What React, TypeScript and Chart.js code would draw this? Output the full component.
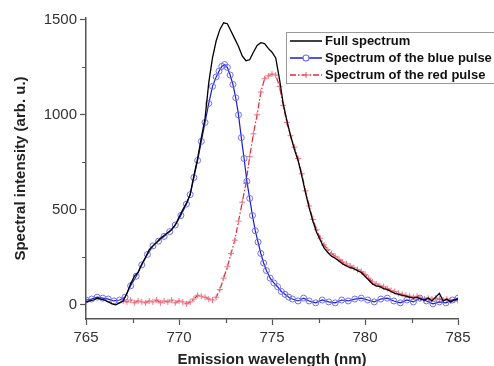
import React, { useEffect, useRef } from "react";
import { Chart, registerables } from "chart.js";

Chart.register(...registerables);

// Full spectrum: wavelengths from 765 nm in 0.2 nm steps
const FULL_START = 765;
const FULL_STEP = 0.2;
const fullValues = [
  15, 20, 25, 35, 30, 25, 15, 5, 0, 10,
  20, 60, 110, 150, 170, 215, 250, 290, 310, 330,
  350, 365, 380, 395, 420, 460, 500, 535, 580, 680,
  770, 880, 980, 1170, 1300, 1390, 1450, 1485, 1480, 1440,
  1400, 1360, 1310, 1285, 1290, 1330, 1365, 1380, 1375, 1350,
  1330, 1300, 1190, 1060, 970, 890, 820, 760, 680, 590,
  510, 440, 380, 340, 300, 275, 255, 245, 230, 215,
  205, 195, 190, 180, 170, 150, 130, 110, 100, 95,
  85, 80, 70, 60, 55, 50, 45, 40, 35, 40,
  30, 25, 35, 20, 40, 60, 20, 30, 15, 25,
  30,
];

// Blue pulse
const blueWavelengths = [
  765, 765.3, 765.6, 765.9, 766.2, 766.5, 766.8, 767.1, 767.4, 767.7,
  768.0, 768.3, 768.6, 768.9, 769.2, 769.5, 769.8, 770.1, 770.4, 770.6,
  770.8, 771.0, 771.2, 771.4, 771.6, 771.8, 772.0, 772.15, 772.3, 772.45,
  772.6, 772.75, 772.9, 773.05, 773.2, 773.35, 773.5, 773.65, 773.8, 773.95,
  774.1, 774.25, 774.4, 774.55, 774.7, 774.9, 775.1, 775.3, 775.5, 775.7,
  775.9, 776.1, 776.4, 776.7, 777.0, 777.35, 777.7, 778.05, 778.4, 778.75,
  779.1, 779.45, 779.8, 780.15, 780.5, 780.85, 781.2, 781.55, 781.9, 782.25,
  782.6, 782.95, 783.3, 783.65, 784.0, 784.35, 784.7, 785.0,
];
const blueValues = [
  25, 30, 40, 35, 30, 20, 25, 40, 100, 150,
  210, 265, 310, 335, 360, 385, 420, 470, 530, 580,
  670, 760, 860, 960, 1060, 1150, 1200, 1230, 1255, 1265,
  1250, 1210, 1160, 1090, 1000, 880, 770, 650, 560, 470,
  390, 330, 270, 220, 180, 140, 115, 95, 70, 55,
  40, 30, 20, 35, 20, 10, 25, 15, 10, 25,
  20, 30, 35, 25, 15, 30, 35, 20, 10, 25,
  15, 35, 20, 5, 15, 10, 25, 35,
];

// Red pulse: wavelengths from 767 nm in 0.2 nm steps
const RED_START = 767;
const RED_STEP = 0.2;
const redValues = [
  20, 15, 25, 10, 20, 15, 10, 20, 15, 25,
  10, 20, 15, 25, 10, 20, 15, 5, 15, 30,
  50, 45, 40, 30, 25, 40, 80, 140, 200, 270,
  340, 440, 540, 640, 780, 900, 1000, 1120, 1190, 1205,
  1215, 1210, 1150, 1050, 960, 890, 830, 770, 690, 600,
  520, 450, 395, 350, 315, 290, 270, 255, 240, 225,
  215, 205, 195, 185, 175, 160, 140, 120, 110, 100,
  95, 85, 75, 70, 60, 55, 50, 45, 40, 45,
  35, 30, 35, 30, 35, 30, 25, 30, 20, 25,
  20,
];

const xTicks = [765, 770, 775, 780, 785];
const xMinorTicks = [767.5, 772.5, 777.5, 782.5];
const yTicks = [0, 500, 1000, 1500];
const yMinorTicks = [250, 750, 1250];

const seriesNames = [
  "Full spectrum",
  "Spectrum of the blue pulse",
  "Spectrum of the red pulse",
];

const FONT = '"Liberation Sans", Arial, sans-serif';
const AXIS_COLOR = "#555";

const fullColor = "#000000";
const blueLine = "#1c1cc8";
const bluePoint = "#6e6ef0";
const redLine = "#e0283a";
const redPoint = "#f07384";
const redDash = [6, 2, 1.5, 2];

const minorTickPlugin = {
  id: "minorTicks",
  afterDraw(chart: any) {
    const { ctx, scales } = chart;
    const xs = scales.x;
    const ys = scales.y;
    ctx.save();
    ctx.strokeStyle = AXIS_COLOR;
    ctx.lineWidth = 1.2;
    ctx.beginPath();
    xMinorTicks.forEach((v) => {
      const px = Math.round(xs.getPixelForValue(v)) + 0.5;
      ctx.moveTo(px, ys.bottom);
      ctx.lineTo(px, ys.bottom + 4);
    });
    yMinorTicks.forEach((v) => {
      const py = Math.round(ys.getPixelForValue(v)) + 0.5;
      ctx.moveTo(xs.left, py);
      ctx.lineTo(xs.left - 4, py);
    });
    ctx.stroke();
    ctx.restore();
  },
};

const legendPlugin = {
  id: "insideLegend",
  afterDraw(chart: any) {
    const { ctx } = chart;
    const bx = 286.5;
    const by = 32.5;
    const bw = 240;
    const bh = 51;
    ctx.save();
    ctx.fillStyle = "#ffffff";
    ctx.fillRect(bx, by, bw, bh);
    ctx.strokeStyle = "#999";
    ctx.lineWidth = 1;
    ctx.strokeRect(bx, by, bw, bh);

    const rows = [41, 58, 75];
    const x0 = 290;
    const x1 = 322;
    const xm = (x0 + x1) / 2;

    // full
    ctx.strokeStyle = fullColor;
    ctx.lineWidth = 1.5;
    ctx.beginPath();
    ctx.moveTo(x0, rows[0]);
    ctx.lineTo(x1, rows[0]);
    ctx.stroke();

    // blue
    ctx.strokeStyle = blueLine;
    ctx.lineWidth = 1.5;
    ctx.beginPath();
    ctx.moveTo(x0, rows[1]);
    ctx.lineTo(x1, rows[1]);
    ctx.stroke();
    ctx.fillStyle = "#fff";
    ctx.strokeStyle = bluePoint;
    ctx.lineWidth = 1.2;
    ctx.beginPath();
    ctx.arc(xm, rows[1], 3, 0, Math.PI * 2);
    ctx.fill();
    ctx.stroke();

    // red
    ctx.strokeStyle = redLine;
    ctx.lineWidth = 1.5;
    ctx.setLineDash(redDash);
    ctx.beginPath();
    ctx.moveTo(x0, rows[2]);
    ctx.lineTo(x1, rows[2]);
    ctx.stroke();
    ctx.setLineDash([]);
    ctx.strokeStyle = redPoint;
    ctx.lineWidth = 1.2;
    ctx.beginPath();
    ctx.moveTo(xm - 3, rows[2]);
    ctx.lineTo(xm + 3, rows[2]);
    ctx.moveTo(xm, rows[2] - 3);
    ctx.lineTo(xm, rows[2] + 3);
    ctx.stroke();

    ctx.fillStyle = "#111";
    ctx.font = `bold 13px ${FONT}`;
    ctx.textBaseline = "middle";
    ctx.textAlign = "left";
    seriesNames.forEach((name, i) => {
      ctx.fillText(name, 325, rows[i] + 0.5);
    });
    ctx.restore();
  },
};

export default function App() {
  const canvasRef = useRef<HTMLCanvasElement | null>(null);

  useEffect(() => {
    document.body.style.margin = "0";
    const canvas = canvasRef.current;
    if (!canvas) return;

    const fullData = fullValues.map((v, i) => ({
      x: FULL_START + i * FULL_STEP,
      y: v,
    }));
    const blueData = blueValues.map((v, i) => ({ x: blueWavelengths[i], y: v }));
    const redData = redValues.map((v, i) => ({
      x: RED_START + i * RED_STEP,
      y: v,
    }));

    const chart = new Chart(canvas, {
      type: "line",
      data: {
        datasets: [
          {
            label: seriesNames[0],
            data: fullData,
            borderColor: fullColor,
            borderWidth: 1.3,
            pointRadius: 0,
            tension: 0,
          },
          {
            label: seriesNames[1],
            data: blueData,
            borderColor: blueLine,
            borderWidth: 1.2,
            pointStyle: "circle",
            pointRadius: 3,
            pointBorderColor: bluePoint,
            pointBackgroundColor: "rgba(255,255,255,0)",
            pointBorderWidth: 1,
            tension: 0,
          },
          {
            label: seriesNames[2],
            data: redData,
            borderColor: redLine,
            borderWidth: 1.2,
            borderDash: redDash,
            pointStyle: "cross",
            pointRadius: 3,
            pointBorderColor: redPoint,
            pointBorderWidth: 1,
            tension: 0,
          },
        ],
      },
      options: {
        responsive: false,
        animation: false,
        events: [],
        layout: { padding: { top: 18, right: 36, left: 0, bottom: 0 } },
        plugins: {
          legend: { display: false },
          tooltip: { enabled: false },
        },
        scales: {
          x: {
            type: "linear",
            min: 765,
            max: 785,
            afterBuildTicks: (scale: any) => {
              scale.ticks = xTicks.map((v) => ({ value: v }));
            },
            afterFit: (scale: any) => {
              scale.height = 47;
            },
            grid: {
              display: true,
              drawOnChartArea: false,
              drawTicks: true,
              tickLength: 6,
              tickWidth: 1.2,
              tickColor: AXIS_COLOR,
            },
            border: { display: true, color: AXIS_COLOR, width: 1.5 },
            ticks: {
              padding: 4,
              color: "#333",
              font: { family: FONT, size: 15 },
              maxRotation: 0,
              callback: (v: any) => String(v),
            },
            title: {
              display: true,
              text: "Emission wavelength (nm)",
              color: "#222",
              font: { family: FONT, size: 15, weight: "bold", lineHeight: 0.8 },
              padding: { top: 0, bottom: 0 },
            },
          },
          y: {
            type: "linear",
            min: -75,
            max: 1510,
            afterBuildTicks: (scale: any) => {
              scale.ticks = yTicks.map((v) => ({ value: v }));
            },
            afterFit: (scale: any) => {
              scale.width = 86;
            },
            grid: {
              display: true,
              drawOnChartArea: false,
              drawTicks: true,
              tickLength: 6,
              tickWidth: 1.2,
              tickColor: AXIS_COLOR,
            },
            border: { display: true, color: AXIS_COLOR, width: 1.5 },
            ticks: {
              padding: 3,
              color: "#333",
              font: { family: FONT, size: 15 },
              callback: (v: any) => String(v),
            },
            title: {
              display: true,
              text: "Spectral intensity (arb. u.)",
              color: "#222",
              font: { family: FONT, size: 15, weight: "bold", lineHeight: 1.2 },
              padding: { top: 12, bottom: 0 },
            },
          },
        },
      },
      plugins: [minorTickPlugin, legendPlugin],
    } as any);

    return () => {
      chart.destroy();
    };
  }, []);

  return (
    <div style={{ width: 494, height: 366, background: "#fff" }}>
      <canvas ref={canvasRef} width={494} height={366} />
    </div>
  );
}
